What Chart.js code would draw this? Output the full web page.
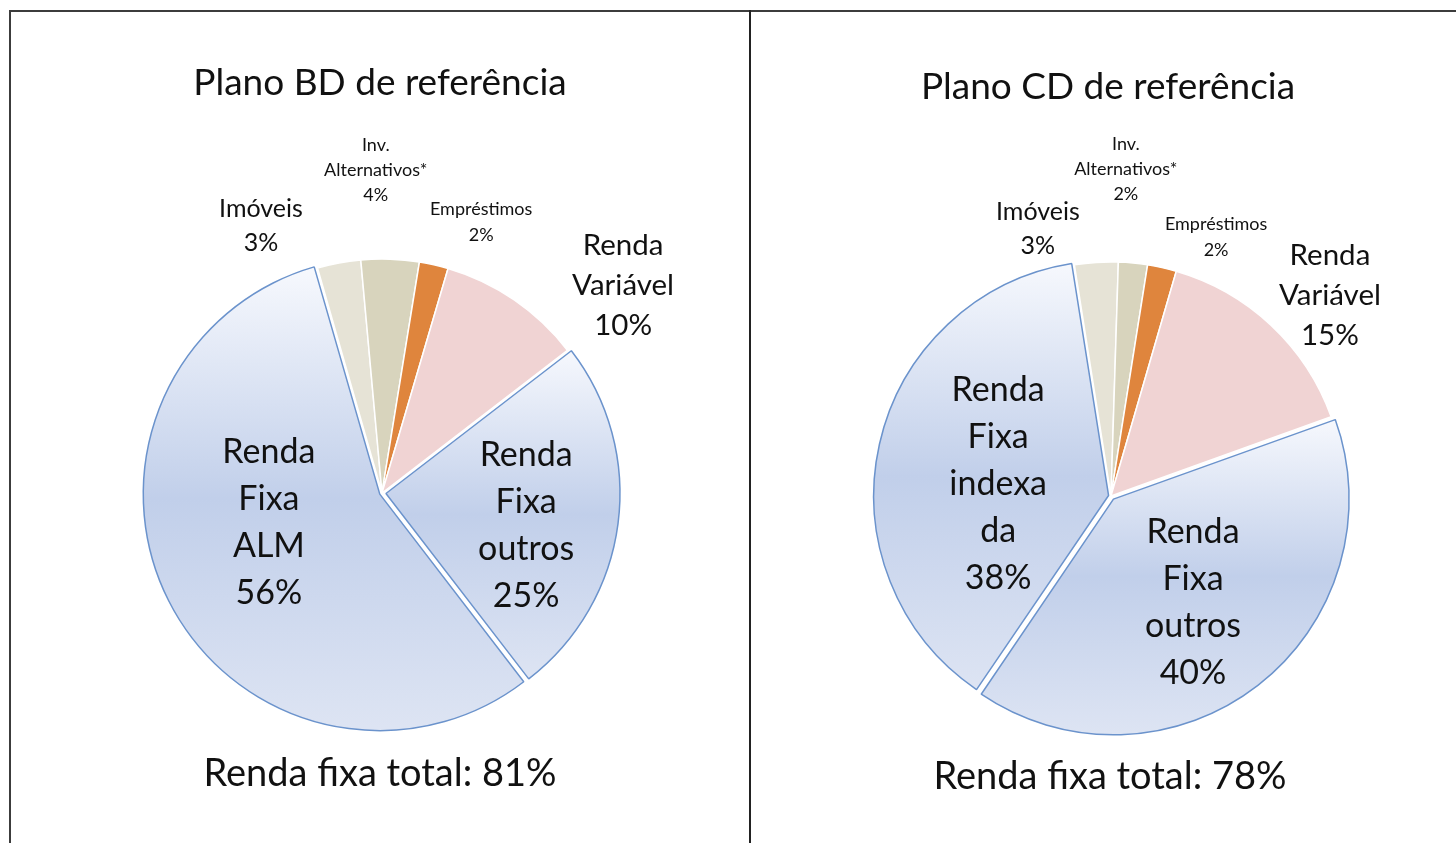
<!DOCTYPE html>
<html>
<head>
<meta charset="utf-8">
<script src="https://cdn.jsdelivr.net/npm/chart.js@4"></script>
<style>
  body { margin: 0; background: #fff; font-family: Lato, sans-serif; color: #111; }
  .frame { position: absolute; left: 9px; top: 10px; width: 1460px; height: 840px;
           border-top: 2px solid #3c3c3c; border-left: 2px solid #3c3c3c; }
  .divider { position: absolute; left: 749px; top: 10px; width: 2px; height: 840px; background: #222; }
  canvas { position: absolute; }
  .txt { position: absolute; width: 600px; text-align: center; white-space: nowrap; }
  .title { font-size: 37px; line-height: 40px; }
  .total { font-size: 38px; line-height: 40px; }
</style>
</head>
<body>
<div class="frame"></div>
<div class="divider"></div>
<canvas id="bdChart" width="738" height="831" style="left:11px;top:12px"></canvas>
<canvas id="cdChart" width="705" height="831" style="left:751px;top:12px"></canvas>
<div class="txt title" style="left:80px;top:61px">Plano BD de referência</div>
<div class="txt title" style="left:808px;top:65px">Plano CD de referência</div>
<div class="txt total" style="left:80px;top:751px">Renda fixa total: 81%</div>
<div class="txt total" style="left:810px;top:754px">Renda fixa total: 78%</div>
<script>
var BLUE = '#c5d3ec';

var bdLabels = ['Imóveis', ['Inv.', 'Alternativos*'], 'Empréstimos', ['Renda', 'Variável'], ['Renda', 'Fixa', 'outros'], ['Renda', 'Fixa', 'ALM']];
var bdValues = [3, 4, 2, 10, 25, 56];

var cdLabels = ['Imóveis', ['Inv.', 'Alternativos*'], 'Empréstimos', ['Renda', 'Variável'], ['Renda', 'Fixa', 'outros'], ['Renda', 'Fixa', 'indexa', 'da']];
var cdValues = [3, 2, 2, 15, 40, 38];

var sliceColors = ['#e6e3d6', '#d8d4bd', '#df853d', '#f0d3d3', BLUE, BLUE];
var sliceBorders = ['#fff', '#fff', '#fff', '#fff', '#6b93cc', '#6b93cc'];

// label font [size, line height]
var labelFonts = [[25, 34], [18, 25], [18, 26], [29.5, 40], [34, 47], [34, 47]];
// label spot: [angle from top in degrees, distance as a share of the radius]
var bdPlacement = [[-24.4, 1.252], [-1.1, 1.38], [20.1, 1.233], [49.3, 1.359], [102.9, 0.632], [-104.4, 0.499]];
var cdPlacement = [[-15.3, 1.184], [2.6, 1.397], [22.1, 1.194], [47.5, 1.269], [142.3, 0.573], [-83.9, 0.485]];

// vertical light-dark-light shading on the blue slices, like the original
var sliceShading = {
    id: 'sliceShading',
    beforeDatasetsDraw: function(chart) {
        var ctx = chart.ctx;
        chart.getDatasetMeta(0).data.forEach(function(arc) {
            if (arc.options.backgroundColor !== BLUE) return;
            var top = arc.y, bottom = arc.y;
            for (var a = arc.startAngle; a <= arc.endAngle; a += 0.01) {
                var py = arc.y + Math.sin(a) * arc.outerRadius;
                top = Math.min(top, py);
                bottom = Math.max(bottom, py);
            }
            var g = ctx.createLinearGradient(0, top, 0, bottom);
            g.addColorStop(0, '#f6f8fd');
            g.addColorStop(0.5, '#c1cfea');
            g.addColorStop(1, '#dde4f3');
            arc.options = Object.assign({}, arc.options, { backgroundColor: g });
        });
    }
};

var sliceLabels = {
    id: 'sliceLabels',
    afterDatasetsDraw: function(chart, args, opts) {
        var ctx = chart.ctx;
        var values = chart.data.datasets[0].data;
        ctx.save();
        ctx.fillStyle = '#111';
        ctx.textAlign = 'center';
        ctx.textBaseline = 'middle';
        chart.getDatasetMeta(0).data.forEach(function(arc, i) {
            var lines = [].concat(chart.data.labels[i], values[i] + '%');
            var size = labelFonts[i][0], lh = labelFonts[i][1];
            var rad = (opts.placement[i][0] - 90) * Math.PI / 180;
            var d = opts.placement[i][1] * arc.outerRadius;
            var x = arc.x + Math.cos(rad) * d;
            var y = arc.y + Math.sin(rad) * d - (lines.length - 1) * lh / 2;
            ctx.font = size + 'px Lato';
            lines.forEach(function(line, k) {
                ctx.fillText(line, x, y + k * lh);
            });
        });
        ctx.restore();
    }
};

function makePie(id, labels, values, rotation, padding, placement) {
    var ctx = document.getElementById(id).getContext('2d');
    return new Chart(ctx, {
        type: 'pie',
        data: {
            labels: labels,
            datasets: [{
                data: values,
                backgroundColor: sliceColors,
                borderColor: sliceBorders,
                borderWidth: 1.5,
                offset: [0, 0, 0, 0, 16, 10]
            }]
        },
        options: {
            responsive: false,
            animation: false,
            rotation: rotation,
            radius: 234,
            layout: { padding: padding },
            plugins: {
                legend: { display: false },
                tooltip: { enabled: false },
                sliceLabels: { placement: placement }
            }
        },
        plugins: [sliceShading, sliceLabels]
    });
}

document.addEventListener('DOMContentLoaded', function(){
    makePie('bdChart', bdLabels, bdValues, -16, { left: 4, right: 0, top: 131, bottom: 0 }, bdPlacement);
    makePie('cdChart', cdLabels, cdValues, -9, { left: 15, right: 0, top: 137, bottom: 0 }, cdPlacement);
});
</script>
</body>
</html>
